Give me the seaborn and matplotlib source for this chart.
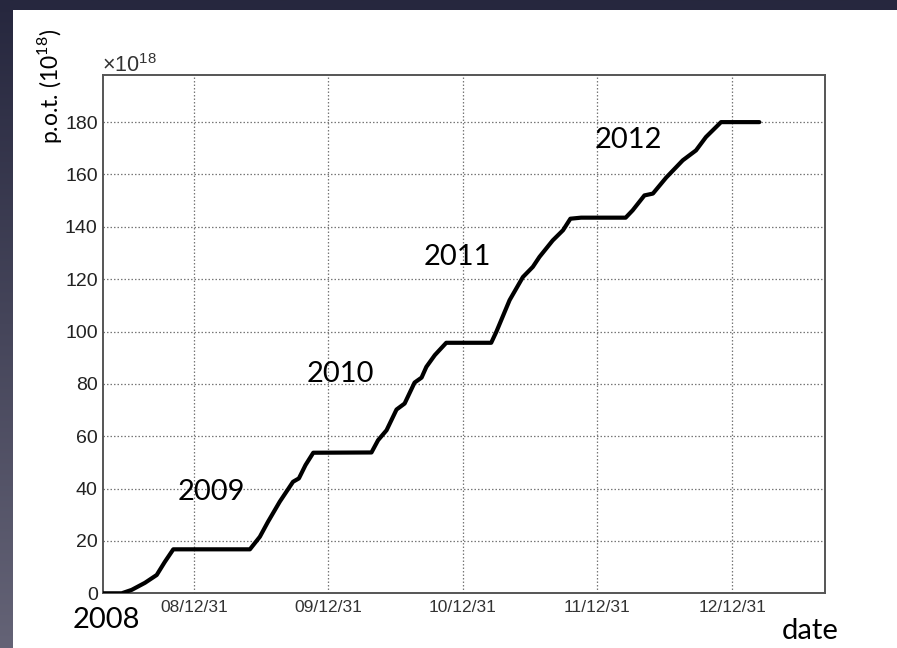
import numpy as np
import pandas as pd
import matplotlib
matplotlib.use("Agg")
import matplotlib.pyplot as plt
import matplotlib.dates as mdates
from matplotlib.ticker import FixedLocator, MultipleLocator, FixedFormatter
import seaborn as sns

# Accumulated protons on target (units of 1e18) versus date
dates = [
    "2008-04-29", "2008-06-18", "2008-07-15", "2008-08-20", "2008-09-21",
    "2008-10-13", "2008-11-05", "2009-06-01", "2009-06-28", "2009-07-20",
    "2009-08-21", "2009-09-26", "2009-10-12", "2009-10-30", "2009-11-20",
    "2010-04-27", "2010-05-15", "2010-06-07", "2010-07-04", "2010-07-26",
    "2010-08-22", "2010-09-10", "2010-09-23", "2010-10-16", "2010-11-16",
    "2011-03-18", "2011-04-01", "2011-05-07", "2011-06-12", "2011-07-09",
    "2011-07-27", "2011-09-01", "2011-09-29", "2011-10-19", "2011-11-17",
    "2012-03-17", "2012-04-05", "2012-05-07", "2012-05-30", "2012-07-05",
    "2012-08-19", "2012-09-24", "2012-10-21", "2012-12-01", "2013-03-15",
]
pot = [
    0.0, 0.0, 1.3, 4.0, 7.0,
    12.0, 16.8, 16.8, 21.6, 27.3,
    35.0, 42.6, 43.9, 49.0, 53.7,
    53.8, 58.5, 62.3, 70.2, 72.5,
    80.5, 82.4, 86.5, 91.0, 95.7,
    95.7, 99.9, 112.0, 120.8, 124.7,
    128.5, 134.8, 138.7, 143.1, 143.5,
    143.5, 146.3, 152.0, 152.7, 158.8,
    165.4, 169.2, 174.3, 180.0, 180.0,
]

year_ends = ["2008-12-31", "2009-12-31", "2010-12-31", "2011-12-31", "2012-12-31"]
year_end_labels = ["08/12/31", "09/12/31", "10/12/31", "11/12/31", "12/12/31"]
y_ticks = [0, 20, 40, 60, 80, 100, 120, 140, 160, 180]
period_labels = ["2009", "2010", "2011", "2012"]

df = pd.DataFrame({"date": pd.to_datetime(dates), "pot": pot})

sns.set_theme(style="white")
plt.rcParams["font.family"] = ["Liberation Sans", "DejaVu Sans"]
plt.rcParams["mathtext.fontset"] = "custom"
plt.rcParams["mathtext.rm"] = "Liberation Sans"

W, H = 897, 648
fig = plt.figure(figsize=(W / 100, H / 100), dpi=100)

# slide background: dark gradient with a white panel
bg = fig.add_axes([0, 0, 1, 1], zorder=-10)
grad = np.linspace(0, 1, 256)[:, None]
top = np.array([38, 39, 62]) / 255
bot = np.array([100, 99, 118]) / 255
img = top[None, None, :] * (1 - grad[..., None]) + bot[None, None, :] * grad[..., None]
bg.imshow(img, aspect="auto", extent=[0, 1, 0, 1], origin="upper")
bg.add_patch(plt.Rectangle((13 / W, 0), 1, 1 - 10 / H, color="white", lw=0))
bg.set_xlim(0, 1)
bg.set_ylim(0, 1)
bg.axis("off")

ax = fig.add_axes([103.3 / W, 1 - 593.3 / H, (825.3 - 103.3) / W, (593.3 - 75) / H])
ax.set_facecolor("white")

sns.lineplot(data=df, x="date", y="pot", ax=ax, color="black", lw=3.0,
             solid_joinstyle="round", zorder=5)

ax.set_xlim(pd.Timestamp("2008-04-29"), pd.Timestamp("2013-09-10"))
ax.set_ylim(0, 198)

major_x = mdates.date2num(pd.to_datetime(year_ends))
step = np.mean(np.diff(major_x)) / 6
minor_x = np.concatenate([major_x[0] - step * np.arange(1, 4),
                          (major_x[:, None] + step * np.arange(1, 6)).ravel(),
                          major_x[-1] + step * np.arange(6, 10)])
ax.xaxis.set_major_locator(FixedLocator(major_x))
ax.xaxis.set_major_formatter(FixedFormatter(year_end_labels))
ax.xaxis.set_minor_locator(FixedLocator(minor_x))
ax.yaxis.set_major_locator(FixedLocator(y_ticks))
ax.yaxis.set_minor_locator(MultipleLocator(5))

ax.grid(True, which="major", ls=(0, (1.2, 1.6)), lw=0.9, color="#777777")
ax.tick_params(axis="x", which="major", direction="in", length=10, width=1.3,
               color="#444444", labelsize=12.5, labelcolor="#333333", pad=5)
ax.tick_params(axis="x", which="minor", direction="in", length=6, width=1.3,
               color="#444444")
ax.tick_params(axis="y", which="major", direction="in", length=16, width=1.3,
               color="#222222", labelsize=14, labelcolor="#222222", pad=4)
ax.tick_params(axis="y", which="minor", direction="in", length=8.5, width=1.3,
               color="#222222")
ax.tick_params(top=False, right=False)
for s in ax.spines.values():
    s.set_visible(True)
    s.set_color("#555555")
    s.set_linewidth(1.4)
ax.set_xlabel("")
ax.set_ylabel("")

# annotations
lato = ["Lato", "DejaVu Sans"]
pos = [(211, 500), (340, 382), (457, 265), (628, 148)]
for lab, (px, py) in zip(period_labels, pos):
    fig.text(px / W, 1 - py / H, lab, family=lato, fontsize=21, color="black",
             ha="center", va="baseline")
fig.text(106 / W, 1 - 628 / H, "2008", family=lato, fontsize=21, color="black",
         ha="center", va="baseline")
fig.text(810 / W, 1 - 639 / H, "date", family=lato, fontsize=21, color="black",
         ha="center", va="baseline")
fig.text(49 / W, 1 - 86 / H, r"p.o.t. (10$^{\mathregular{18}}$)", family=lato,
         fontsize=16.5, color="black", rotation=90, ha="center", va="center")
fig.text(102 / W, 1 - 72 / H, r"$\mathregular{\times10^{18}}$", fontsize=15.5,
         color="#333333", ha="left", va="baseline")

fig.savefig("out.png", dpi=100)
